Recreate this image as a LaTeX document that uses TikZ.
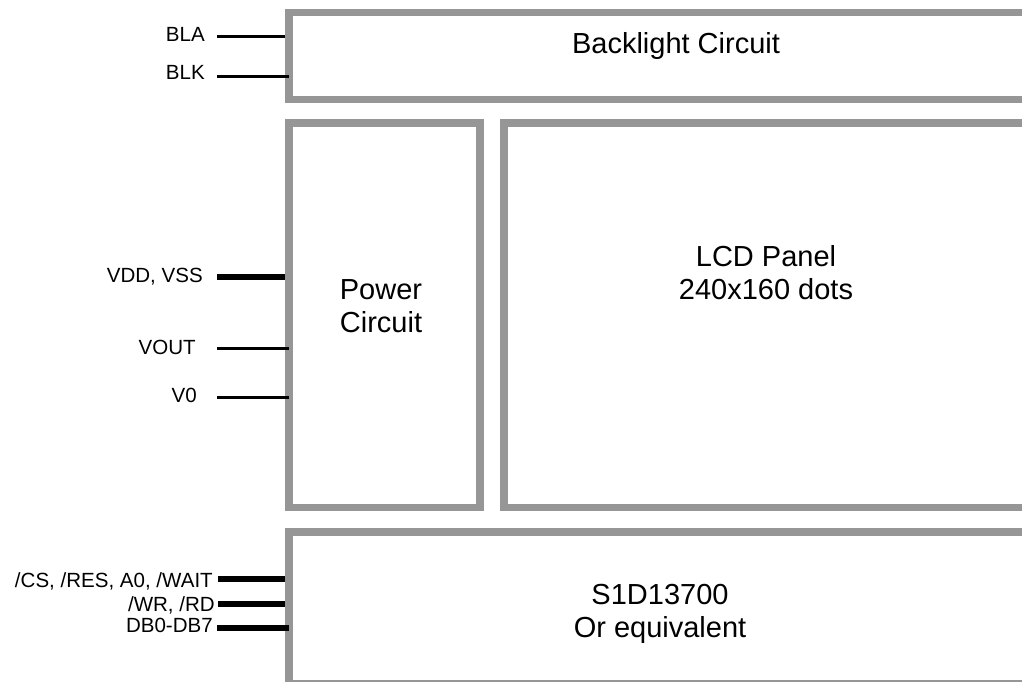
\documentclass[tikz,border=0pt]{standalone}
\usepackage{fontspec}
\setmainfont{Liberation Sans}
\definecolor{boxgray}{RGB}{150,150,150}

\begin{document}
\begin{tikzpicture}[
        x=0.75pt, y=-0.75pt,
        every node/.style={font=\fontsize{15.4}{18}\selectfont},
        block/.style={draw=boxgray, line width=5.6pt, rectangle, inner sep=0pt,
                      outer sep=0pt, anchor=north west},
        title/.style={font=\fontsize{21.75}{24.75}\selectfont, align=center, inner sep=0pt},
        pinlabel/.style={anchor=base east, inner sep=0pt},
        wire/.style={line width=2.25pt},
        bus/.style={line width=4.9pt},
        short/.style={shorten >=3pt}
    ]
        \useasboundingbox (0,0) rectangle (1022,682);
        \clip (0,0) rectangle (1022,682);

        % blocks (open to the right)
        \node[block, minimum width=608.25pt, minimum height=65.25pt]  (backlight) at (289,12.5) {};
        \node[block, minimum width=143.25pt, minimum height=288.4pt]  (power)     at (289,123)  {};
        \node[block, minimum width=447pt,    minimum height=288.4pt]  (lcd)       at (504,123)  {};
        \node[block, minimum width=608.25pt, minimum height=114pt]    (ctrl)      at (289,532)  {};

        \node[title, anchor=base] (bltext)  at (676,53.3)  {Backlight Circuit};
        \node[title]              (pwtext)  at (381,306.5) {Power\\Circuit};
        \node[title]              (lcdtext) at (766,273)   {LCD Panel\\240x160 dots};
        \node[title]              (ctltext) at (660,613.8) {S1D13700\\Or equivalent};

        % pins
        \coordinate (pBLA)  at (217,36);
        \coordinate (pBLK)  at (217,76);
        \coordinate (pVDD)  at (217,277);
        \coordinate (pVOUT) at (217,348);
        \coordinate (pVZ)   at (217,397);
        \coordinate (pCS)   at (218,579);
        \coordinate (pWR)   at (218,604);
        \coordinate (pDB)   at (217,628);

        \node[pinlabel] (lBLA)  at (205,41.7)  {BLA};
        \node[pinlabel] (lBLK)  at (205,79)    {BLK};
        \node[pinlabel] (lVDD)  at (203,282.3) {VDD, VSS};
        \node[pinlabel] (lVOUT) at (196,354.3) {VOUT};
        \node[pinlabel] (lVZ)   at (197,402.3) {V0};
        \node[pinlabel] (lCS)   at (213,587.3) {/CS, /RES, A0, /WAIT};
        \node[pinlabel] (lWR)   at (215,611)   {/WR, /RD};
        \node[pinlabel] (lDB)   at (213,632.7) {DB0-DB7};

        \draw[wire, short] (pBLA)  -- (pBLA -| backlight.west);
        \draw[wire]        (pBLK)  -- (pBLK -| backlight.west);
        \draw[bus, short]  (pVDD)  -- (pVDD -| power.west);
        \draw[wire]        (pVOUT) -- (pVOUT -| power.west);
        \draw[wire]        (pVZ)   -- (pVZ -| power.west);
        \draw[bus, short]  (pCS)   -- (pCS -| ctrl.west);
        \draw[bus, short]  (pWR)   -- (pWR -| ctrl.west);
        \draw[bus]         (pDB)   -- (pDB -| ctrl.west);
    \end{tikzpicture}
\end{document}
